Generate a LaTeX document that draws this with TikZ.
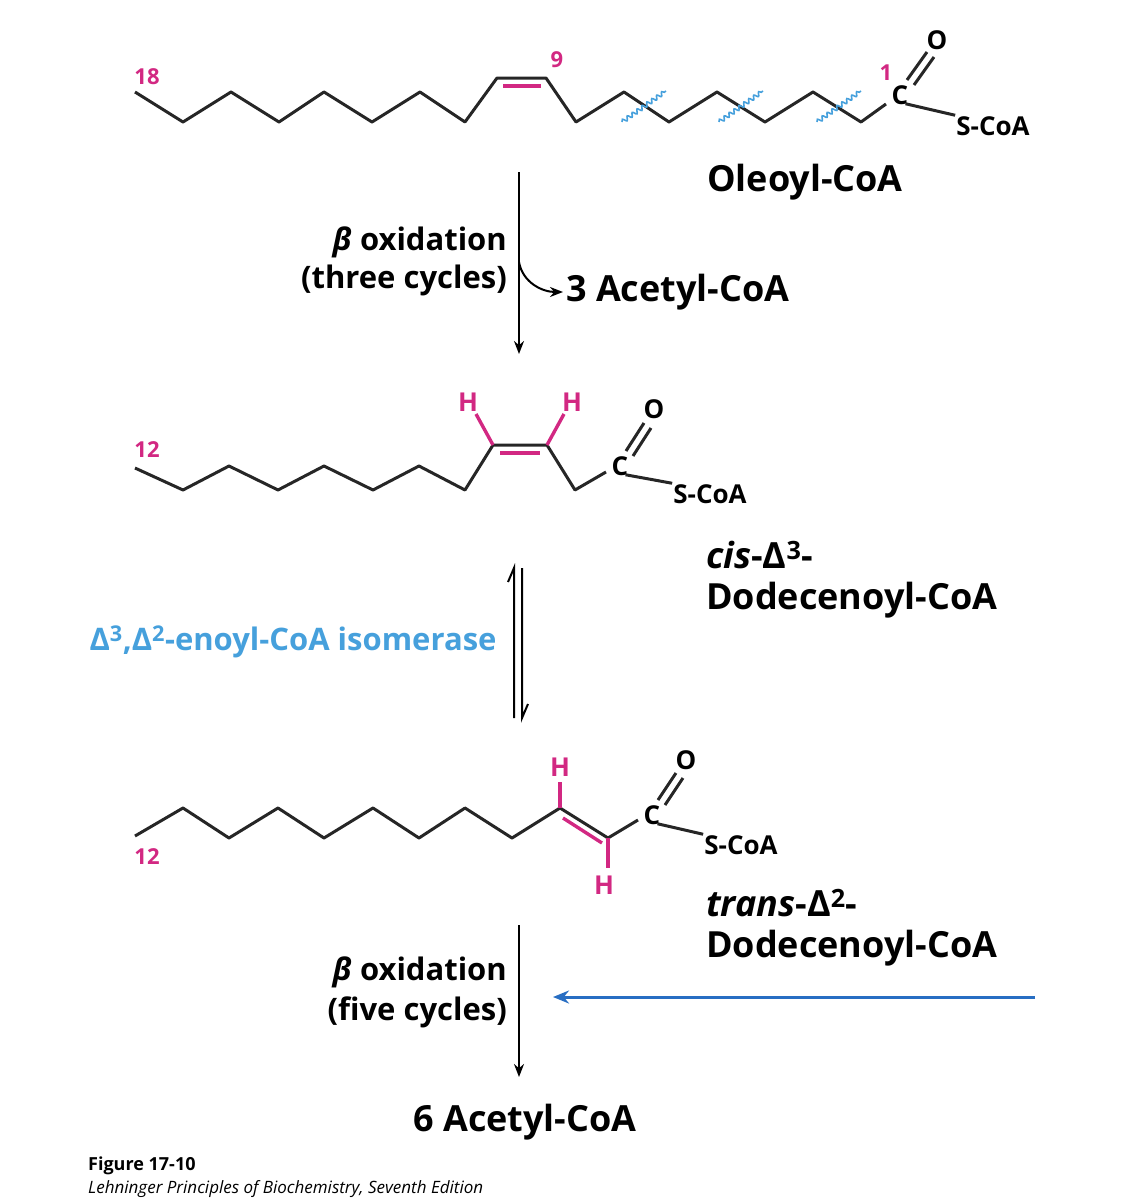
\documentclass[tikz,border=0pt]{standalone}
\usepackage{fontspec}
\setmainfont{Open Sans}
\usetikzlibrary{arrows.meta,decorations.pathmorphing}
\definecolor{pk}{RGB}{210,40,130}
\definecolor{lb}{RGB}{70,160,220}
\definecolor{db}{RGB}{40,110,195}
\begin{document}
\begin{tikzpicture}[x=1pt,y=-1pt,
  bond/.style={line width=3pt,black!85,line join=round},
  pbond/.style={line width=3.4pt,pk},
  big/.style={font=\fontsize{36}{40}\selectfont\bfseries,inner sep=0},
  mid/.style={font=\fontsize{31}{36}\selectfont\bfseries,inner sep=0},
  atom/.style={font=\fontsize{26}{28}\selectfont\bfseries,inner sep=1pt},
  num/.style={font=\fontsize{22}{24}\selectfont\bfseries,text=pk,inner sep=0},
  wave/.style={lb,line width=1.6pt,decorate,decoration={snake,amplitude=2pt,segment length=6pt}},
  rarr/.style={line width=2pt,-{Stealth[length=13pt,width=10pt]}}]
\useasboundingbox (0,0) rectangle (1123,1200);
% ---- Oleoyl-CoA
\draw[bond] (135,92)--(183,122)--(231,92)--(279,122)--(324,92)--(372,122)--(420,92)--(465,122)--(497,78)--(546,78)--(576,122)--(624,92)--(669,122)--(717,92)--(765,122)--(813,92)--(861,122)--(886,104);
\draw[pbond] (503,86)--(541,86);
\node[atom] (c1) at (900,95) {C};
\node[atom] (o1) at (937,40) {O};
\node[atom] (s1) at (993,126) {S-CoA};
\draw[bond] (907,80)--(927,52);
\draw[bond] (914,85)--(934,57);
\draw[bond] (c1.south east)++(-4,-2) -- (s1.north west);
\node[num] at (147,77) {18};
\node[num] at (557,60) {9};
\node[num] at (886,73) {1};
\foreach \x in {644,741,839} \draw[wave] (\x-22,122)--(\x+22,91);
\node[big] (ole) at (805,182) {Oleoyl-CoA};
% ---- arrow 1
\coordinate (a1s) at (519,172); \coordinate (a1e) at (519,354);
\draw[rarr] (a1s)--(a1e);
\coordinate (br) at (519,262);
\node[big,anchor=west] (ac3) at (566,292) {3 Acetyl-CoA};
\draw[rarr] (br) to[out=-80,in=180] ([xshift=-3pt]ac3.west);
\node[mid,anchor=east] at (507,242) {\textit{β} oxidation};
\node[mid,anchor=east] at (507,280) {(three cycles)};
% ---- cis chain
\draw[bond] (135,468)--(183,490)--(229,466)--(278,490)--(324,466)--(373,490)--(419,466)--(465,490)--(493,445)--(547,445)--(575,490)--(606,472);
\draw[pbond] (500,453)--(540,453);
\draw[pbond] (493,445)--(476,414);
\draw[pbond] (547,445)--(564,414);
\node[atom,text=pk] at (468,402) {H};
\node[atom,text=pk] at (572,402) {H};
\node[atom] (c2) at (620,466) {C};
\node[atom] (o2) at (654,409) {O};
\node[atom] (s2) at (710,494) {S-CoA};
\draw[bond] (626,451)--(644,423);
\draw[bond] (633,456)--(651,428);
\draw[bond] (c2.south east)++(-4,-2) -- (s2.north west);
\node[num] at (147,450) {12};
\node[big,anchor=west] at (706,555) {\textit{cis}-Δ\textsuperscript{3}-};
\node[big,anchor=west] at (706,600) {Dodecenoyl-CoA};
% ---- equilibrium
\draw[line width=2pt] (514,718)--(514,568)--(508,582);
\draw[line width=2pt] (522,568)--(522,718)--(528,704);
\node[mid,text=lb] at (293,642) {Δ\textsuperscript{3},Δ\textsuperscript{2}-enoyl-CoA isomerase};
% ---- trans chain
\draw[bond] (135,836)--(183,808)--(229,838)--(278,808)--(324,838)--(373,808)--(419,838)--(465,808)--(512,838)--(560,808)--(608,838)--(638,820);
\draw[pbond] (563,818)--(602,843);
\draw[pbond] (560,808)--(560,782);
\draw[pbond] (608,838)--(608,868);
\node[atom,text=pk] at (560,767) {H};
\node[atom,text=pk] at (604,885) {H};
\node[atom] (c3) at (652,815) {C};
\node[atom] (o3) at (686,760) {O};
\node[atom] (s3) at (741,845) {S-CoA};
\draw[bond] (658,800)--(676,773);
\draw[bond] (665,805)--(683,778);
\draw[bond] (c3.south east)++(-4,-2) -- (s3.north west);
\node[num] at (147,857) {12};
\node[big,anchor=west] at (706,903) {\textit{trans}-Δ\textsuperscript{2}-};
\node[big,anchor=west] at (706,948) {Dodecenoyl-CoA};
% ---- arrow 3
\coordinate (a3s) at (519,925); \coordinate (a3e) at (519,1077);
\draw[rarr] (a3s)--(a3e);
\node[mid,anchor=east] at (507,972) {\textit{β} oxidation};
\node[mid,anchor=east] at (507,1012) {(five cycles)};
\coordinate (bs) at (1035,997); \coordinate (be) at (553,997);
\draw[db,line width=3pt,-{Stealth[length=16pt,width=13pt]}] (bs)--(be);
\node[big] at (525,1122) {6 Acetyl-CoA};
\node[font=\fontsize{18}{20}\selectfont\bfseries,anchor=west,inner sep=0] at (88,1166) {Figure 17-10};
\node[font=\fontsize{17}{20}\selectfont\itshape,anchor=west,inner sep=0] at (88,1189) {Lehninger Principles of Biochemistry, Seventh Edition};
\end{tikzpicture}
\end{document}
